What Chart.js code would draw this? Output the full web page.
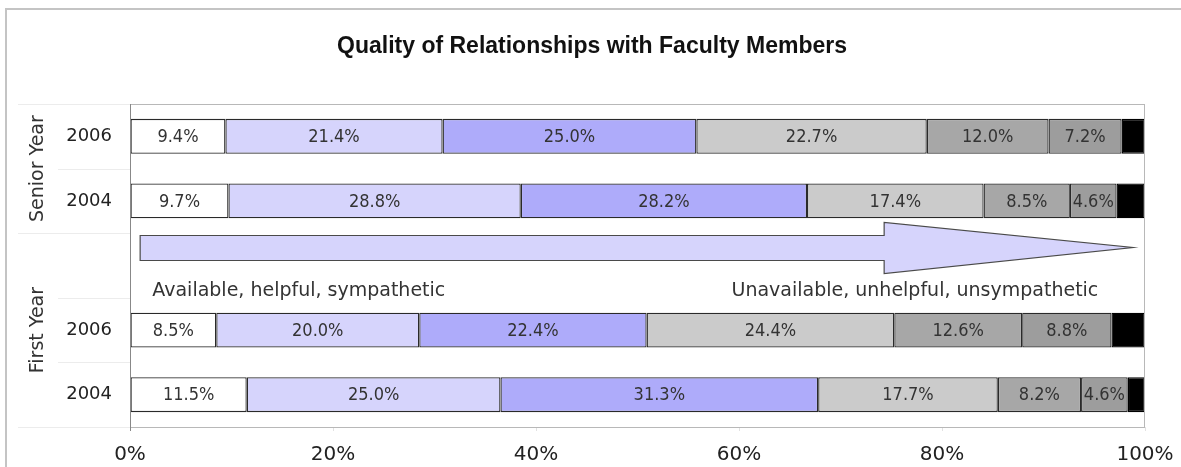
<!DOCTYPE html>
<html>
<head>
<meta charset="utf-8">
<title>Quality of Relationships with Faculty Members</title>
<script src="https://cdn.jsdelivr.net/npm/chart.js@4.4.1/dist/chart.umd.min.js"></script>
<style>
  html, body { margin: 0; padding: 0; background: #fff; }
  #wrap { width: 1181px; height: 467px; }
</style>
</head>
<body>
<div id="wrap"><canvas id="chart"></canvas></div>
<script>
'use strict';

// rows, top to bottom (the empty one holds the arrow)
var rowLabels = ['2006', '2004', '', '2006', '2004'];
var groupLabels = ['Senior Year', 'First Year'];
var groupRows = [0.5, 3];

// percent in each response level, most to least available
var level1 = [9.4, 9.7, null, 8.5, 11.5];
var level2 = [21.4, 28.8, null, 20.0, 25.0];
var level3 = [25.0, 28.2, null, 22.4, 31.3];
var level4 = [22.7, 17.4, null, 24.4, 17.7];
var level5 = [12.0, 8.5, null, 12.6, 8.2];
var level6 = [7.2, 4.6, null, 8.8, 4.6];
var level7 = [2.3, 2.8, null, 3.3, 1.7];

var xTicks = [0, 20, 40, 60, 80, 100];
var titleText = 'Quality of Relationships with Faculty Members';
var arrowLeft = 'Available, helpful, sympathetic';
var arrowRight = 'Unavailable, unhelpful, unsympathetic';

var colors = ['#ffffff', '#d6d4fc', '#aeabfa', '#cbcbcb', '#a7a7a7', '#9d9d9d', '#000000'];
var allLevels = [level1, level2, level3, level4, level5, level6, level7];

var datasets = [];
for (var i = 0; i < allLevels.length; i++) {
  datasets.push({
    label: 'Level ' + (i + 1),
    data: allLevels[i],
    backgroundColor: colors[i],
    borderColor: i === 6 ? '#000' : '#2a2a2a',
    borderWidth: 1.3,
    borderSkipped: false,
    categoryPercentage: 1,
    barPercentage: 0.54
  });
}

// grey frame round the whole picture, and the title
var framePlugin = {
  id: 'frame',
  beforeDraw: function(chart) {
    var c = chart.ctx;
    c.save();
    c.strokeStyle = '#c4c4c4';
    c.lineWidth = 2;
    c.strokeRect(6, 9, chart.width + 20, chart.height + 20);
    c.fillStyle = '#111';
    c.font = 'bold 23px "Liberation Sans", Arial';
    c.textAlign = 'center';
    c.textBaseline = 'middle';
    c.fillText(titleText, 592, 47);
    c.restore();
  }
};

// plot border, separator lines on the y side, group names
var axisPlugin = {
  id: 'axisBits',
  afterDraw: function(chart) {
    var c = chart.ctx;
    var a = chart.chartArea;
    var y = chart.scales.y;
    var step = (a.bottom - a.top) / rowLabels.length;
    c.save();
    c.strokeStyle = '#ececec';
    c.lineWidth = 1;
    for (var k = 0; k <= rowLabels.length; k++) {
      var yy = Math.round(a.top + k * step) + 0.5;
      var start = (k === 0 || k === 2 || k === 5) ? 18 : 58;
      c.beginPath();
      c.moveTo(start, yy);
      c.lineTo(a.left, yy);
      c.stroke();
    }
    c.strokeStyle = '#b8b8b8';
    c.strokeRect(a.left + 0.5, a.top + 0.5, a.right - a.left - 1, a.bottom - a.top);
    c.strokeStyle = '#888';
    c.beginPath();
    c.moveTo(a.left + 0.5, a.top);
    c.lineTo(a.left + 0.5, a.bottom + 4);
    c.stroke();

    c.fillStyle = '#333';
    c.font = '19px "DejaVu Sans"';
    c.textAlign = 'center';
    c.textBaseline = 'middle';
    for (var g = 0; g < groupLabels.length; g++) {
      c.save();
      c.translate(38, y.getPixelForValue(groupRows[g]));
      c.rotate(-Math.PI / 2);
      c.fillText(groupLabels[g], 0, 0);
      c.restore();
    }
    c.restore();
  }
};

// arrow in the empty row
var arrowPlugin = {
  id: 'arrow',
  afterDatasetsDraw: function(chart) {
    var c = chart.ctx;
    var x = chart.scales.x;
    var yc = chart.scales.y.getPixelForValue(2);
    var x0 = x.getPixelForValue(1);
    var xh = x.getPixelForValue(74.3);
    var xt = x.getPixelForValue(98.8);
    c.save();
    c.fillStyle = '#d6d4fc';
    c.strokeStyle = '#4a4a4a';
    c.lineWidth = 1.2;
    c.beginPath();
    c.moveTo(x0, yc - 30);
    c.lineTo(xh, yc - 30);
    c.lineTo(xh, yc - 43);
    c.lineTo(xt, yc - 18);
    c.lineTo(xh, yc + 8);
    c.lineTo(xh, yc - 5);
    c.lineTo(x0, yc - 5);
    c.closePath();
    c.fill();
    c.stroke();

    c.fillStyle = '#333';
    c.font = '19px "DejaVu Sans"';
    c.textBaseline = 'middle';
    c.textAlign = 'left';
    c.fillText(arrowLeft, x.getPixelForValue(2.2), yc + 26);
    c.textAlign = 'right';
    c.fillText(arrowRight, x.getPixelForValue(95.4), yc + 26);
    c.restore();
  }
};

// percent labels inside segments
var valuePlugin = {
  id: 'values',
  afterDatasetsDraw: function(chart) {
    var c = chart.ctx;
    c.save();
    c.fillStyle = '#333';
    c.font = '18px "DejaVu Sans Condensed", "Liberation Sans Narrow", "Liberation Sans"';
    c.textAlign = 'center';
    c.textBaseline = 'middle';
    for (var d = 0; d < chart.data.datasets.length - 1; d++) {
      var meta = chart.getDatasetMeta(d);
      var vals = chart.data.datasets[d].data;
      for (var j = 0; j < meta.data.length; j++) {
        if (vals[j] == null) continue;
        var bar = meta.data[j];
        c.fillText(vals[j].toFixed(1) + '%', (bar.x + bar.base) / 2, bar.y + 1);
      }
    }
    c.restore();
  }
};

var ctx = document.getElementById('chart').getContext('2d');

var chart = new Chart(ctx, {
  type: 'bar',
  data: {
    labels: rowLabels,
    datasets: datasets
  },
  options: {
    indexAxis: 'y',
    responsive: true,
    maintainAspectRatio: false,
    animation: false,
    layout: { padding: { left: 6, right: 36, top: 104, bottom: 0 } },
    plugins: {
      legend: { display: false },
      tooltip: { enabled: false },
      title: { display: false }
    },
    scales: {
      x: {
        stacked: true,
        min: 0,
        max: 100,
        afterBuildTicks: function(scale) {
          scale.ticks = xTicks.map(function(v) { return { value: v }; });
        },
        afterFit: function(scale) {
          scale.height = 40;
          scale.paddingLeft = 0;
          scale.paddingRight = 0;
        },
        grid: { drawOnChartArea: false, drawTicks: true, tickLength: 4, color: '#e2e2e2' },
        border: { display: false },
        ticks: {
          padding: 12,
          color: '#222',
          font: { family: '"DejaVu Sans"', size: 20 },
          maxRotation: 0,
          callback: function(v) { return v + '%'; }
        }
      },
      y: {
        stacked: true,
        afterFit: function(scale) {
          scale.width = 124;
          scale.paddingTop = 0;
          scale.paddingBottom = 0;
        },
        grid: { display: false },
        border: { display: false },
        ticks: {
          padding: 10,
          color: '#222',
          font: { family: '"DejaVu Sans"', size: 18 }
        }
      }
    }
  },
  plugins: [framePlugin, arrowPlugin, valuePlugin, axisPlugin]
});
</script>
</body>
</html>
